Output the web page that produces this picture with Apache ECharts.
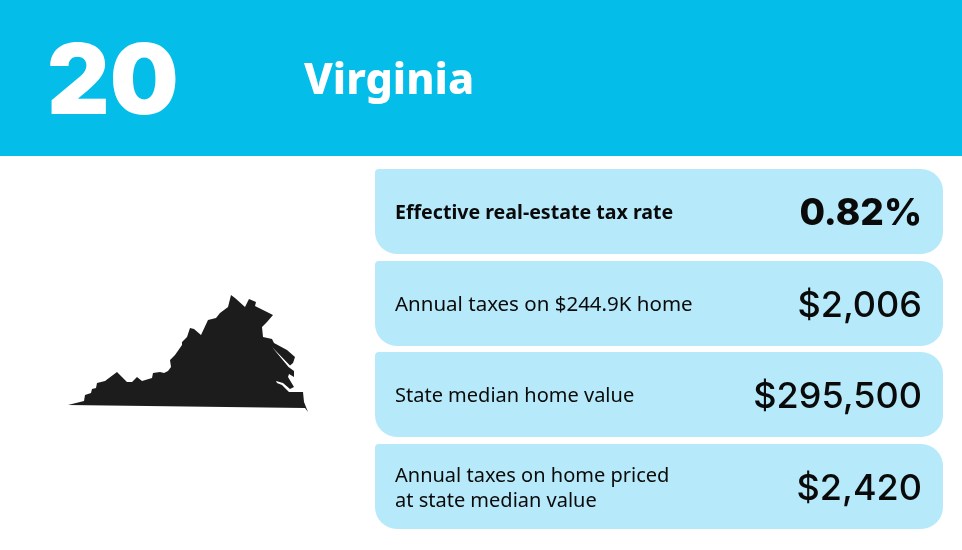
<!DOCTYPE html>
<html>
<head>
<meta charset="utf-8">
<script src="https://cdn.jsdelivr.net/npm/echarts@6/dist/echarts.min.js"></script>
<style>
    html, body { margin: 0; padding: 0; background: #fff; }
</style>
</head>
<body>
<div id="main" style="width: 962px;height:550px;"></div>
<script type="text/javascript">

    var rank = '20';
    var stateName = 'Virginia';
    var rowLabels = [
        'Effective real-estate tax rate',
        'Annual taxes on $244.9K home',
        'State median home value',
        'Annual taxes on home priced\nat state median value'
    ];
    var rowValues = ['0.82%', '$2,006', '$295,500', '$2,420'];
    // state outline, x to the east and y to the north
    var outline = [
        [0,7],[16,11],[17,17],[23,19],[24,23],[28,24],[29,29],[37,31],[49,40],[59,30],[64,30],[69,35],[74,31],[84,34],
        [85,39],[92,40],[96,39],[100,41],[103,45],[102,52],[107,57],[114,67],[114,70],[119,75],[122,84],[126,83],[133,77],
        [140,92],[148,94],[152,99],[160,105],[163,117],[167,114],[177,105],[181,113],[188,110],[187,106],[205,97],
        [199,90],[194,85],[195,75],[204,73],[206,69],[219,62],[227,55],[225,49],[222,46.5],[204,65],[220.5,45],[226,41],
        [226,35],[221,38],[220,35],[226,25],[222,23],[215,29],[208,31],[209,29],[214,27],[221,20],[235,20],[236,10],
        [240,0],[237,4],[0,7]
    ];

    echarts.registerMap('virginia', {
        type: 'FeatureCollection',
        features: [{
            type: 'Feature',
            properties: { name: stateName },
            geometry: { type: 'Polygon', coordinates: [outline] }
        }]
    });

    var myChart = echarts.init(document.getElementById('main'));

    var panelTop = [169, 261, 352, 444];
    var labelSize = [19.6, 20.5, 20, 20];
    var graphics = [
        { type: 'rect', shape: { x: 0, y: 0, width: 962, height: 156 }, style: { fill: '#05bde9' } },
        { type: 'text', x: 47, y: 85, style: { text: rank, fill: '#fff', font: '900 97px Inter', verticalAlign: 'middle' } },
        { type: 'text', x: 304, y: 82, style: { text: stateName, fill: '#fff', font: '800 43px "Noto Sans"', verticalAlign: 'middle' } }
    ];
    rowLabels.forEach(function(label, i){
        var bold = i == 0;
        graphics.push({ type: 'rect', shape: { x: 375, y: panelTop[i], width: 568, height: 85, r: [4, 22, 22, 22] }, style: { fill: '#b6e9f9' } });
        graphics.push({ type: 'text', x: 395, y: panelTop[i] + 44.5, style: {
            text: label, fill: '#0a0a0a', font: (bold ? '700 ' : '400 ') + labelSize[i] + 'px "Noto Sans"',
            verticalAlign: 'middle', lineHeight: 25
        } });
        graphics.push({ type: 'text', x: 922, y: panelTop[i] + 45, style: {
            text: rowValues[i], fill: '#0a0a0a', font: (bold ? '800 ' : '500 ') + (bold ? 37 : 36) + 'px Inter',
            align: 'right', verticalAlign: 'middle'
        } });
    });

    var option = {
        animation: false,
        graphic: graphics,
        series: [
            {
                type: 'map',
                map: 'virginia',
                silent: true,
                aspectScale: 1,
                left: 68,
                top: 295,
                width: 240,
                height: 117,
                label: { show: false },
                itemStyle: { areaColor: '#1c1c1c', borderWidth: 0 },
                data: [{ name: stateName, value: 1 }]
            }
        ]
    };
    myChart.setOption(option);
</script>
</body>
</html>
